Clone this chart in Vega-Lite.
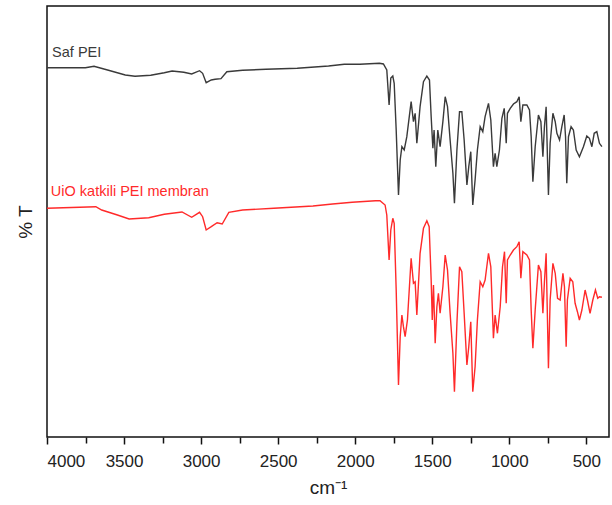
{
  "$schema": "https://vega.github.io/schema/vega-lite/v6.json",
  "width": 562,
  "height": 431,
  "autosize": "none",
  "padding": {"left": 47, "top": 6, "right": 3, "bottom": 68},
  "config": {
    "font": "Liberation Sans",
    "view": {"stroke": "#111", "strokeWidth": 1.5},
    "background": "white"
  },
  "datasets": {
    "spectra": [
      {"s":"Saf PEI","w":4000,"T":369.3},{"s":"Saf PEI","w":3751,"T":369.3},{"s":"Saf PEI","w":3695,"T":370.7},{"s":"Saf PEI","w":3607,"T":367},{"s":"Saf PEI","w":3492,"T":362},{"s":"Saf PEI","w":3429,"T":360.7},{"s":"Saf PEI","w":3327,"T":361.7},{"s":"Saf PEI","w":3239,"T":364.3},{"s":"Saf PEI","w":3188,"T":366},{"s":"Saf PEI","w":3112,"T":364.7},{"s":"Saf PEI","w":3061,"T":363},{"s":"Saf PEI","w":3010,"T":366.3},{"s":"Saf PEI","w":2990,"T":363.7},{"s":"Saf PEI","w":2967,"T":354.3},{"s":"Saf PEI","w":2934,"T":357},{"s":"Saf PEI","w":2909,"T":357.7},{"s":"Saf PEI","w":2871,"T":358.3},{"s":"Saf PEI","w":2833,"T":365.3},{"s":"Saf PEI","w":2731,"T":366.7},{"s":"Saf PEI","w":2579,"T":367.7},{"s":"Saf PEI","w":2376,"T":368.7},{"s":"Saf PEI","w":2173,"T":371},{"s":"Saf PEI","w":2071,"T":372.7},{"s":"Saf PEI","w":1970,"T":372.7},{"s":"Saf PEI","w":1843,"T":373.7},{"s":"Saf PEI","w":1817,"T":373},{"s":"Saf PEI","w":1795,"T":367},{"s":"Saf PEI","w":1780,"T":332},{"s":"Saf PEI","w":1769,"T":359},{"s":"Saf PEI","w":1756,"T":361},{"s":"Saf PEI","w":1747,"T":353.7},{"s":"Saf PEI","w":1734,"T":307},{"s":"Saf PEI","w":1719,"T":242},{"s":"Saf PEI","w":1708,"T":277},{"s":"Saf PEI","w":1697,"T":290.3},{"s":"Saf PEI","w":1682,"T":287},{"s":"Saf PEI","w":1665,"T":300.3},{"s":"Saf PEI","w":1637,"T":335.3},{"s":"Saf PEI","w":1622,"T":315.3},{"s":"Saf PEI","w":1611,"T":323.7},{"s":"Saf PEI","w":1600,"T":293.7},{"s":"Saf PEI","w":1579,"T":330.3},{"s":"Saf PEI","w":1557,"T":355.3},{"s":"Saf PEI","w":1535,"T":361},{"s":"Saf PEI","w":1518,"T":357},{"s":"Saf PEI","w":1507,"T":320.3},{"s":"Saf PEI","w":1496,"T":288.7},{"s":"Saf PEI","w":1488,"T":307},{"s":"Saf PEI","w":1477,"T":270.3},{"s":"Saf PEI","w":1464,"T":307},{"s":"Saf PEI","w":1449,"T":290.3},{"s":"Saf PEI","w":1431,"T":315.3},{"s":"Saf PEI","w":1416,"T":340.3},{"s":"Saf PEI","w":1401,"T":330.3},{"s":"Saf PEI","w":1384,"T":297},{"s":"Saf PEI","w":1366,"T":263.7},{"s":"Saf PEI","w":1356,"T":233.7},{"s":"Saf PEI","w":1340,"T":287},{"s":"Saf PEI","w":1323,"T":325.3},{"s":"Saf PEI","w":1308,"T":325.3},{"s":"Saf PEI","w":1293,"T":297},{"s":"Saf PEI","w":1275,"T":252},{"s":"Saf PEI","w":1263,"T":270.3},{"s":"Saf PEI","w":1250,"T":285.3},{"s":"Saf PEI","w":1237,"T":232},{"s":"Saf PEI","w":1222,"T":257},{"s":"Saf PEI","w":1207,"T":287},{"s":"Saf PEI","w":1189,"T":310.3},{"s":"Saf PEI","w":1172,"T":305.3},{"s":"Saf PEI","w":1157,"T":320.3},{"s":"Saf PEI","w":1135,"T":333.7},{"s":"Saf PEI","w":1120,"T":317},{"s":"Saf PEI","w":1103,"T":270.3},{"s":"Saf PEI","w":1092,"T":283.7},{"s":"Saf PEI","w":1081,"T":270.3},{"s":"Saf PEI","w":1064,"T":287},{"s":"Saf PEI","w":1048,"T":318.7},{"s":"Saf PEI","w":1033,"T":328.7},{"s":"Saf PEI","w":1020,"T":293.7},{"s":"Saf PEI","w":1012,"T":323.7},{"s":"Saf PEI","w":994,"T":328.7},{"s":"Saf PEI","w":973,"T":333},{"s":"Saf PEI","w":951,"T":335.3},{"s":"Saf PEI","w":936,"T":340.3},{"s":"Saf PEI","w":925,"T":315.3},{"s":"Saf PEI","w":912,"T":332},{"s":"Saf PEI","w":886,"T":332},{"s":"Saf PEI","w":869,"T":327},{"s":"Saf PEI","w":858,"T":300.3},{"s":"Saf PEI","w":847,"T":255.3},{"s":"Saf PEI","w":832,"T":290.3},{"s":"Saf PEI","w":811,"T":322},{"s":"Saf PEI","w":795,"T":315.3},{"s":"Saf PEI","w":782,"T":280.3},{"s":"Saf PEI","w":772,"T":310.3},{"s":"Saf PEI","w":761,"T":330.3},{"s":"Saf PEI","w":746,"T":242},{"s":"Saf PEI","w":735,"T":293.7},{"s":"Saf PEI","w":717,"T":323.7},{"s":"Saf PEI","w":702,"T":315.3},{"s":"Saf PEI","w":691,"T":303.7},{"s":"Saf PEI","w":674,"T":297},{"s":"Saf PEI","w":659,"T":310.3},{"s":"Saf PEI","w":644,"T":322},{"s":"Saf PEI","w":635,"T":300.3},{"s":"Saf PEI","w":627,"T":253.7},{"s":"Saf PEI","w":616,"T":300.3},{"s":"Saf PEI","w":599,"T":310.3},{"s":"Saf PEI","w":584,"T":307},{"s":"Saf PEI","w":566,"T":287},{"s":"Saf PEI","w":545,"T":280.3},{"s":"Saf PEI","w":519,"T":290.3},{"s":"Saf PEI","w":497,"T":301},{"s":"Saf PEI","w":480,"T":298.7},{"s":"Saf PEI","w":464,"T":290.3},{"s":"Saf PEI","w":449,"T":303.7},{"s":"Saf PEI","w":432,"T":305.3},{"s":"Saf PEI","w":415,"T":293.7},{"s":"Saf PEI","w":399,"T":290.3},
      {"s":"UiO","w":4000,"T":228.7},{"s":"UiO","w":3683,"T":230.3},{"s":"UiO","w":3645,"T":227},{"s":"UiO","w":3543,"T":222},{"s":"UiO","w":3467,"T":218},{"s":"UiO","w":3340,"T":219.3},{"s":"UiO","w":3239,"T":222.7},{"s":"UiO","w":3124,"T":225},{"s":"UiO","w":3061,"T":219.7},{"s":"UiO","w":3010,"T":224.7},{"s":"UiO","w":2990,"T":220.3},{"s":"UiO","w":2967,"T":207},{"s":"UiO","w":2934,"T":210.3},{"s":"UiO","w":2896,"T":214.3},{"s":"UiO","w":2863,"T":213},{"s":"UiO","w":2820,"T":224.7},{"s":"UiO","w":2731,"T":227},{"s":"UiO","w":2528,"T":228.7},{"s":"UiO","w":2274,"T":231},{"s":"UiO","w":2147,"T":233},{"s":"UiO","w":2020,"T":234.7},{"s":"UiO","w":1868,"T":236.3},{"s":"UiO","w":1839,"T":236.3},{"s":"UiO","w":1806,"T":232},{"s":"UiO","w":1795,"T":222},{"s":"UiO","w":1780,"T":177},{"s":"UiO","w":1769,"T":207},{"s":"UiO","w":1756,"T":218.7},{"s":"UiO","w":1747,"T":213.7},{"s":"UiO","w":1734,"T":147},{"s":"UiO","w":1719,"T":52},{"s":"UiO","w":1708,"T":100.3},{"s":"UiO","w":1697,"T":122},{"s":"UiO","w":1687,"T":110.3},{"s":"UiO","w":1676,"T":100.3},{"s":"UiO","w":1661,"T":117},{"s":"UiO","w":1637,"T":178.7},{"s":"UiO","w":1622,"T":153.7},{"s":"UiO","w":1611,"T":155.3},{"s":"UiO","w":1600,"T":122},{"s":"UiO","w":1579,"T":183.7},{"s":"UiO","w":1557,"T":208.7},{"s":"UiO","w":1535,"T":216.3},{"s":"UiO","w":1520,"T":210.3},{"s":"UiO","w":1507,"T":157},{"s":"UiO","w":1500,"T":117},{"s":"UiO","w":1492,"T":152},{"s":"UiO","w":1481,"T":93.7},{"s":"UiO","w":1470,"T":130.3},{"s":"UiO","w":1460,"T":143.7},{"s":"UiO","w":1449,"T":123.7},{"s":"UiO","w":1431,"T":150.3},{"s":"UiO","w":1416,"T":182},{"s":"UiO","w":1401,"T":167},{"s":"UiO","w":1384,"T":123.7},{"s":"UiO","w":1366,"T":83.7},{"s":"UiO","w":1356,"T":45.3},{"s":"UiO","w":1340,"T":113.7},{"s":"UiO","w":1323,"T":170.3},{"s":"UiO","w":1308,"T":165.3},{"s":"UiO","w":1293,"T":123.7},{"s":"UiO","w":1275,"T":72},{"s":"UiO","w":1263,"T":90.3},{"s":"UiO","w":1250,"T":115.3},{"s":"UiO","w":1237,"T":45.3},{"s":"UiO","w":1222,"T":70.3},{"s":"UiO","w":1207,"T":117},{"s":"UiO","w":1189,"T":155.3},{"s":"UiO","w":1172,"T":150.3},{"s":"UiO","w":1157,"T":157},{"s":"UiO","w":1135,"T":183.7},{"s":"UiO","w":1120,"T":170.3},{"s":"UiO","w":1103,"T":98.7},{"s":"UiO","w":1092,"T":122},{"s":"UiO","w":1077,"T":103.7},{"s":"UiO","w":1059,"T":130.3},{"s":"UiO","w":1044,"T":170.3},{"s":"UiO","w":1031,"T":185.3},{"s":"UiO","w":1020,"T":133.7},{"s":"UiO","w":1012,"T":177},{"s":"UiO","w":994,"T":182},{"s":"UiO","w":973,"T":187},{"s":"UiO","w":951,"T":190.3},{"s":"UiO","w":936,"T":195.3},{"s":"UiO","w":925,"T":158.7},{"s":"UiO","w":912,"T":185.3},{"s":"UiO","w":886,"T":182},{"s":"UiO","w":869,"T":177},{"s":"UiO","w":858,"T":127},{"s":"UiO","w":847,"T":88.7},{"s":"UiO","w":832,"T":127},{"s":"UiO","w":811,"T":172},{"s":"UiO","w":795,"T":165.3},{"s":"UiO","w":782,"T":123.7},{"s":"UiO","w":772,"T":155.3},{"s":"UiO","w":761,"T":183.7},{"s":"UiO","w":746,"T":68.7},{"s":"UiO","w":735,"T":137},{"s":"UiO","w":717,"T":173.7},{"s":"UiO","w":702,"T":163.7},{"s":"UiO","w":687,"T":138.7},{"s":"UiO","w":670,"T":137},{"s":"UiO","w":652,"T":163.7},{"s":"UiO","w":642,"T":150.3},{"s":"UiO","w":631,"T":90.3},{"s":"UiO","w":623,"T":137},{"s":"UiO","w":605,"T":158.7},{"s":"UiO","w":588,"T":155.3},{"s":"UiO","w":573,"T":133.7},{"s":"UiO","w":558,"T":125.3},{"s":"UiO","w":545,"T":117},{"s":"UiO","w":529,"T":127},{"s":"UiO","w":508,"T":147},{"s":"UiO","w":493,"T":137},{"s":"UiO","w":476,"T":123.7},{"s":"UiO","w":458,"T":137},{"s":"UiO","w":441,"T":147},{"s":"UiO","w":426,"T":138.7},{"s":"UiO","w":415,"T":140.3},{"s":"UiO","w":399,"T":139.7}
    ],
    "labels": [
      {"s":"Saf PEI","label":"Saf PEI","w":3967,"T":384},
      {"s":"UiO","label":"UiO katkili PEI membran","w":3975,"T":245}
    ]
  },
  "resolve": {"axis": {"x": "independent"}},
  "layer": [
    {
      "data": {"name": "spectra"},
      "mark": {"type": "line", "strokeWidth": 1.4, "interpolate": "linear"},
      "encoding": {
        "x": {
          "field": "w", "type": "quantitative",
          "scale": {"domain": [353, 4000], "reverse": true, "nice": false, "zero": false},
          "axis": {
            "orient": "bottom",
            "values": [4000, 3500, 3000, 2500, 2000, 1500, 1000, 500],
            "format": "d",
            "grid": false, "domain": false,
            "tickSize": 7, "tickColor": "#111", "tickWidth": 1.5,
            "labelFontSize": 17, "labelColor": "#222", "labelPadding": 9,
            "title": "cm⁻¹", "titleFontSize": 19, "titleFontWeight": "normal",
            "titleColor": "#222", "titlePadding": 9
          }
        },
        "y": {
          "field": "T", "type": "quantitative",
          "scale": {"domain": [0, 431], "nice": false, "zero": false},
          "axis": {
            "grid": false, "domain": false, "ticks": false, "labels": false,
            "title": "% T", "titleFontSize": 19, "titleFontWeight": "normal",
            "titleColor": "#222", "titlePadding": 12
          }
        },
        "color": {
          "field": "s", "type": "nominal",
          "scale": {"domain": ["Saf PEI", "UiO"], "range": ["#3a3a3a", "#ff2a2a"]},
          "legend": null
        },
        "order": {"field": "w", "type": "quantitative", "sort": "descending"}
      }
    },
    {
      "data": {"name": "labels"},
      "mark": {"type": "text", "align": "left", "baseline": "middle", "fontSize": 14.5},
      "encoding": {
        "x": {
          "field": "w", "type": "quantitative",
          "axis": {
            "orient": "bottom",
            "values": [3750, 3250, 2750, 2250, 1750, 1250, 750],
            "grid": false, "domain": false, "labels": false, "title": null,
            "tickSize": 6, "tickColor": "#111", "tickWidth": 1.5
          }
        },
        "y": {"field": "T", "type": "quantitative"},
        "text": {"field": "label"},
        "color": {"field": "s", "type": "nominal", "legend": null}
      }
    }
  ]
}
